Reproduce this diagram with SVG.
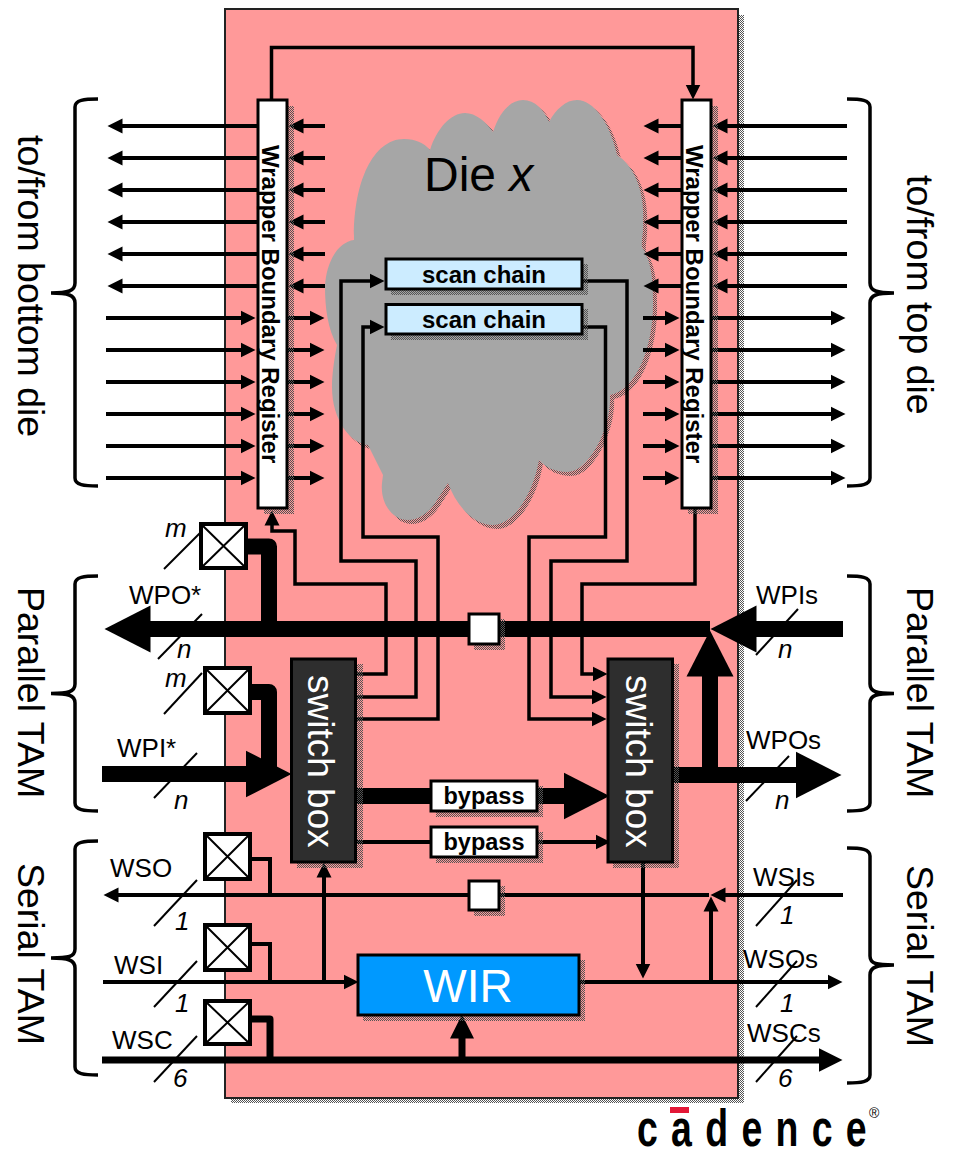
<svg xmlns="http://www.w3.org/2000/svg" width="955" height="1157" viewBox="0 0 955 1157">
<style>
text{font-family:"Liberation Sans",Arial,sans-serif;fill:#000}
.lbl{font-size:26px}
.it{font-size:26px;font-style:italic}
.side{font-size:37.500px}
.b{font-weight:bold}
.wbr{font-size:24px;font-weight:bold}
.sb{font-size:37px;fill:#fff}
.box{fill:#fff;stroke:#000;stroke-width:3}
.sh{fill:url(#dots);stroke:none}
.swb{fill:#2e2e2e;stroke:#000;stroke-width:3}
.scan{fill:#ccecff;stroke:#000;stroke-width:3}
.xb{fill:#fff;stroke:#000;stroke-width:4}
.xl{stroke:#000;stroke-width:2;fill:none}
.w3{stroke:#000;stroke-width:3.5;fill:none;stroke-linejoin:miter}
.w4{stroke:#000;stroke-width:4;fill:none}
.w7{stroke:#000;stroke-width:7;fill:none;stroke-linejoin:round}
.w16{stroke:#000;stroke-width:16;fill:none;stroke-linejoin:round}
.s{marker-end:url(#ahs)}
.m{marker-end:url(#ahm)}
.l{marker-end:url(#ahl)}
.brace{stroke:#000;stroke-width:3.5;fill:none}
</style>
<defs>
<pattern id="dots" width="2" height="2" patternUnits="userSpaceOnUse"><rect width="1" height="1" fill="#555"/><rect x="1" y="1" width="1" height="1" fill="#555"/></pattern>
<marker id="ahs" markerUnits="userSpaceOnUse" viewBox="0 -8 16 16" markerWidth="16" markerHeight="16" refX="0.5" refY="0" orient="auto"><path d="M0,-7.5L15,0L0,7.5Z"/></marker>
<marker id="ahm" markerUnits="userSpaceOnUse" viewBox="0 -13 26 26" markerWidth="26" markerHeight="26" refX="0.5" refY="0" orient="auto"><path d="M0,-12L24,0L0,12Z"/></marker>
<marker id="ahl" markerUnits="userSpaceOnUse" viewBox="0 -24 48 48" markerWidth="48" markerHeight="48" refX="0.5" refY="0" orient="auto"><path d="M0,-23.5L46,0L0,23.5Z"/></marker>
<path id="cloudp" d="M354,240C353,185 372,139 404,139C416,139 424,143 430,150C437,128 451,113 465,113C476,113 486,122 493,132C499,113 510,100 523,100C535,100 544,110 549,122C556,109 566,100 577,100C593,100 610,122 617,155C633,165 645,190 643,222C644,232 641,240 642,247C652,262 653,282 653,300C654,345 637,390 610,395C612,425 590,472 567,472C555,472 545,467 539,460C533,495 513,525 493,525C473,525 456,505 448,483L437,500C430,512 419,520 408,520C392,520 380,503 382,483L383,475L368,445C350,443 332,420 332,387C332,375 334,360 337,345C328,330 325,308 325,287C326,262 338,242 354,240Z"/>
</defs>
<g id="die-frame">
<rect class="sh" x="231" y="15" width="513" height="1088"/>
<rect x="225" y="9" width="513" height="1089" fill="#ff9999" stroke="#222" stroke-width="2"/>
</g>
<g id="die-cloud">
<use href="#cloudp" x="4" y="4" class="sh"/>
<use href="#cloudp" fill="#a6a6a6"/>
<text x="424" y="191" font-size="48">Die <tspan font-style="italic">x</tspan></text>
</g>
<g id="connectors">
<path class="w3 s" d="M271.5,100V47.5H693V85"/>
<g class="w4">
<path class="s" d="M257,126H122"/><path class="s" d="M257,158H122"/><path class="s" d="M257,190H122"/><path class="s" d="M257,222H122"/><path class="s" d="M257,254H122"/><path class="s" d="M257,286H122"/>
<path class="s" d="M325,126H303"/><path class="s" d="M325,158H303"/><path class="s" d="M325,190H303"/><path class="s" d="M325,222H303"/><path class="s" d="M325,254H303"/><path class="s" d="M325,286H303"/>
<path class="s" d="M106,318H241"/><path class="s" d="M106,350H241"/><path class="s" d="M106,382H241"/><path class="s" d="M106,414H241"/><path class="s" d="M106,446H241"/><path class="s" d="M106,478H241"/>
<path class="s" d="M288,318H310"/><path class="s" d="M288,350H310"/><path class="s" d="M288,382H310"/><path class="s" d="M288,414H310"/><path class="s" d="M288,446H310"/><path class="s" d="M288,478H310"/>
<path class="s" d="M681,126H658"/><path class="s" d="M681,158H658"/><path class="s" d="M681,190H658"/><path class="s" d="M681,222H658"/><path class="s" d="M681,254H658"/><path class="s" d="M681,286H658"/>
<path class="s" d="M847,126H727"/><path class="s" d="M847,158H727"/><path class="s" d="M847,190H727"/><path class="s" d="M847,222H727"/><path class="s" d="M847,254H727"/><path class="s" d="M847,286H727"/>
<path class="s" d="M643,318H665"/><path class="s" d="M643,350H665"/><path class="s" d="M643,382H665"/><path class="s" d="M643,414H665"/><path class="s" d="M643,446H665"/><path class="s" d="M643,478H665"/>
<path class="s" d="M711,318H831"/><path class="s" d="M711,350H831"/><path class="s" d="M711,382H831"/><path class="s" d="M711,414H831"/><path class="s" d="M711,446H831"/><path class="s" d="M711,478H831"/>
</g>
<g class="w3">
<path class="s" d="M356,674H386V584H295V531H272V525"/>
<path class="s" d="M356,697H416V561H341V281H370"/>
<path class="s" d="M356,719H438V537H363V327H370"/>
<path class="s" d="M582,281H627V561H551V697H592"/>
<path class="s" d="M582,327H605.500V537H529V719H592"/>
<path class="s" d="M695,508V584H582V674H593"/>
</g>
<g class="w16">
<path class="l" d="M710,629H150"/>
<path class="l" d="M843,629H756"/>
<path class="l" d="M710,775V676"/>
<path class="l" d="M673,775H796"/>
<path class="l" d="M102,774H246"/>
<path class="l" d="M356,796H564"/>
<path d="M248,546.500H269V625"/>
<path d="M251,692H269V770"/>
</g>
<g class="w4">
<path class="s" d="M709,895H118"/>
<path class="s" d="M843,895H725"/>
<path class="s" d="M711,982V911"/>
<path class="s" d="M103,982H344"/>
<path class="s" d="M324,982V877"/>
<path class="s" d="M579,982H828"/>
<path class="s" d="M643,862V964"/>
<path d="M251,859H270V895"/>
<path d="M251,944H270V982"/>
<path class="s" d="M356,842H596"/>
</g>
<path class="w7" d="M251,1019H270V1060"/>
<path class="w7 m" d="M102,1060H819"/>
<path class="w7 m" d="M462,1060V1038"/>
<g class="xl">
<path d="M164,569L202,531"/><path d="M158,659L202,614"/><path d="M164,714L202,673"/><path d="M154,798L197,753"/><path d="M154,926L197,880"/><path d="M154,1007L197,961"/><path d="M154,1082L197,1036"/>
<path d="M756,655L798,609"/><path d="M746,801L789,756"/><path d="M756,926L797,880"/><path d="M756,1007L797,961"/><path d="M756,1082L797,1036"/>
</g>
</g>
<g id="wbr-left">
<rect class="sh" x="264" y="106" width="30" height="408"/>
<rect class="box" x="258" y="100" width="29" height="408"/>
<text class="wbr" transform="translate(262,145) rotate(90)">Wrapper Boundary Register</text>
</g>
<g id="wbr-right">
<rect class="sh" x="688" y="106" width="30" height="408"/>
<rect class="box" x="682" y="100" width="29" height="408"/>
<text class="wbr" transform="translate(686,145) rotate(90)">Wrapper Boundary Register</text>
</g>
<g id="scan-chain-1">
<rect class="sh" x="391" y="264" width="197" height="31"/>
<rect class="scan" x="386" y="259" width="196" height="30"/>
<text class="b" x="484" y="283" font-size="24" text-anchor="middle">scan chain</text>
</g>
<g id="scan-chain-2">
<rect class="sh" x="391" y="309" width="197" height="31"/>
<rect class="scan" x="386" y="304.500" width="196" height="29.500"/>
<text class="b" x="484" y="328" font-size="24" text-anchor="middle">scan chain</text>
</g>
<g id="switch-box-left">
<rect class="sh" x="297" y="664" width="66" height="204"/>
<rect class="swb" x="291.500" y="659" width="64" height="203"/>
<text class="sb" transform="translate(308,675) rotate(90)">switch box</text>
</g>
<g id="switch-box-right">
<rect class="sh" x="613" y="664" width="66" height="204"/>
<rect class="swb" x="608" y="659" width="64.500" height="203"/>
<text class="sb" transform="translate(626,675) rotate(90)">switch box</text>
</g>
<g id="bypass-1">
<rect class="sh" x="436" y="786" width="107" height="31"/>
<rect class="box" x="431" y="781" width="106" height="30"/>
<text class="b" x="484" y="804" font-size="23.500" text-anchor="middle">bypass</text>
</g>
<g id="bypass-2">
<rect class="sh" x="436" y="832" width="107" height="31"/>
<rect class="box" x="431" y="827" width="106" height="30"/>
<text class="b" x="484" y="850" font-size="23.500" text-anchor="middle">bypass</text>
</g>
<g id="reg-wp">
<rect class="sh" x="474" y="619" width="31" height="31"/>
<rect class="box" x="469" y="614" width="30" height="30"/>
</g>
<g id="reg-ws">
<rect class="sh" x="474" y="886" width="31" height="30"/>
<rect class="box" x="469" y="881" width="30" height="29"/>
</g>
<g id="wir">
<rect class="sh" x="363" y="960" width="222" height="61"/>
<rect x="358" y="955" width="221" height="60" fill="#0099ff" stroke="#000" stroke-width="3"/>
<text x="468" y="1002" font-size="46" text-anchor="middle" style="fill:#fff">WIR</text>
</g>
<g id="x-box-1"><rect class="xb" x="201" y="524" width="45" height="44"/><path class="xl" d="M201,524L246,568M246,524L201,568"/></g>
<g id="x-box-2"><rect class="xb" x="205" y="668" width="45" height="45"/><path class="xl" d="M205,668L250,713M250,668L205,713"/></g>
<g id="x-box-3"><rect class="xb" x="205" y="834" width="45" height="45"/><path class="xl" d="M205,834L250,879M250,834L205,879"/></g>
<g id="x-box-4"><rect class="xb" x="205" y="925" width="45" height="45"/><path class="xl" d="M205,925L250,970M250,925L205,970"/></g>
<g id="x-box-5"><rect class="xb" x="205" y="1001" width="45" height="43"/><path class="xl" d="M205,1001L250,1044M250,1001L205,1044"/></g>
<g id="braces">
<path class="brace" d="M98,99C84,99 75,100 75,107V283C75,291 68,293 51,293C68,293 75,295 75,303V478C75,485 84,486 98,486"/>
<path class="brace" d="M98,576C84,576 75,577 75,584V684C75,692 68,693.500 51,693.500C68,693.500 75,695 75,703V803C75,810 84,811 98,811"/>
<path class="brace" d="M98,841C84,841 75,842 75,849V949C75,957 68,958 51,958C68,958 75,960 75,968V1067C75,1074 84,1075 98,1075"/>
<path class="brace" d="M847,99C861,99 870,100 870,107V283C870,291 877,293 894,293C877,293 870,295 870,303V478C870,485 861,486 847,486"/>
<path class="brace" d="M847,576C861,576 870,577 870,584V684C870,692 877,693.500 894,693.500C877,693.500 870,695 870,703V803C870,810 861,811 847,811"/>
<path class="brace" d="M847,848C861,848 870,849 870,856V956C870,964 877,965 894,965C877,965 870,967 870,975V1075C870,1082 861,1083 847,1083"/>
</g>
<g id="labels">
<text class="side" transform="translate(18,135) rotate(90)">to/from bottom die</text>
<text class="side" transform="translate(18,587) rotate(90)">Parallel TAM</text>
<text class="side" transform="translate(18,863) rotate(90)">Serial TAM</text>
<text class="side" transform="translate(907,175) rotate(90)">to/from top die</text>
<text class="side" transform="translate(907,587) rotate(90)">Parallel TAM</text>
<text class="side" transform="translate(907,865) rotate(90)">Serial TAM</text>
<text class="lbl" x="129" y="604">WPO*</text>
<text class="lbl" x="117" y="757">WPI*</text>
<text class="lbl" x="110" y="877">WSO</text>
<text class="lbl" x="114" y="974">WSI</text>
<text class="lbl" x="112" y="1049">WSC</text>
<text class="lbl" x="756" y="604">WPIs</text>
<text class="lbl" x="746" y="749">WPOs</text>
<text class="lbl" x="753" y="886">WSIs</text>
<text class="lbl" x="743" y="968">WSOs</text>
<text class="lbl" x="747" y="1042">WSCs</text>
<text class="it" x="165" y="537">m</text>
<text class="it" x="177" y="658">n</text>
<text class="it" x="165" y="687">m</text>
<text class="it" x="174" y="809">n</text>
<text class="it" x="175" y="930">1</text>
<text class="it" x="175" y="1012">1</text>
<text class="it" x="173" y="1087">6</text>
<text class="it" x="778" y="658">n</text>
<text class="it" x="775" y="809">n</text>
<text class="it" x="780" y="924">1</text>
<text class="it" x="780" y="1012">1</text>
<text class="it" x="778" y="1087">6</text>
</g>
<g id="cadence-logo">
<rect x="670" y="1107" width="19" height="6" fill="#e31837"/>
<text transform="translate(637,1145.500) scale(.72,1)" font-size="52" font-weight="bold" textLength="319" lengthAdjust="spacing">cadence</text>
<text x="869" y="1118" font-size="14">®</text>
</g>
</svg>
